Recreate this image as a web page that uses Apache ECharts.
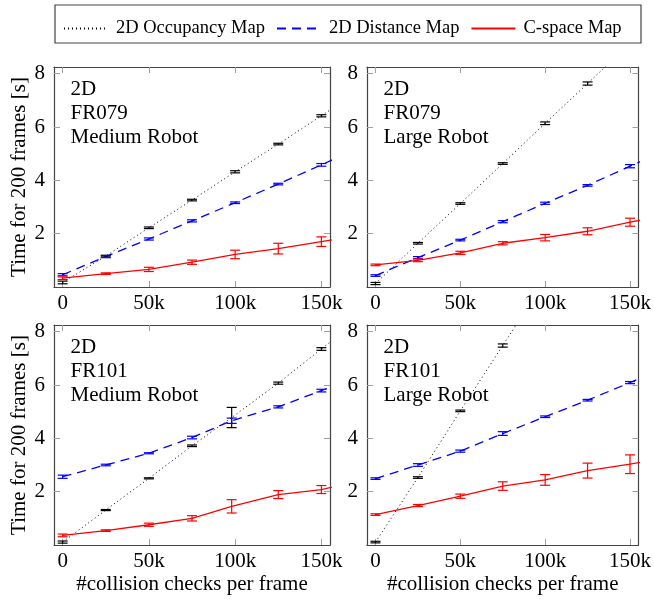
<!DOCTYPE html>
<html>
<head>
<meta charset="utf-8">
<script src="https://cdn.jsdelivr.net/npm/echarts@6/dist/echarts.min.js"></script>
<style>
  html, body { margin: 0; padding: 0; background: #fff; }
  #chart { width: 654px; height: 600px; }
</style>
</head>
<body>
<div id="chart"></div>
<script>
// collision checks per frame, in thousands (175 = next sample, outside the frame)
const checks = [0, 25, 50, 75, 100, 125, 150, 175];
const checksFr101Med = [0, 25, 50, 75, 98, 125, 150, 175];
const xTicks = [0, 50, 100, 150];
const yTicks = [2, 4, 6, 8];

// FR079, medium robot
const fr079MedOcc = [0.17, 1.16, 2.22, 3.26, 4.32, 5.36, 6.42, 7.5];
const fr079MedOccErr = [0.05, 0.03, 0.03, 0.03, 0.04, 0.03, 0.04];
const fr079MedDist = [0.46, 1.14, 1.8, 2.48, 3.16, 3.86, 4.58, 5.32];
const fr079MedDistErr = [0.04, 0.04, 0.04, 0.04, 0.03, 0.03, 0.05];
const fr079MedCsp = [0.33, 0.5, 0.66, 0.93, 1.22, 1.44, 1.7, 1.96];
const fr079MedCspErr = [0.05, 0.03, 0.08, 0.08, 0.16, 0.2, 0.18];

// FR079, large robot
const fr079LrgOcc = [0.13, 1.64, 3.13, 4.63, 6.14, 7.63, 9.13];
const fr079LrgOccErr = [0.04, 0.03, 0.03, 0.03, 0.05, 0.06];
const fr079LrgDist = [0.43, 1.1, 1.76, 2.45, 3.14, 3.81, 4.53, 5.23];
const fr079LrgDistErr = [0.03, 0.04, 0.03, 0.04, 0.04, 0.03, 0.06];
const fr079LrgCsp = [0.83, 1.0, 1.28, 1.64, 1.85, 2.09, 2.43, 2.74];
const fr079LrgCspErr = [0.03, 0.05, 0.06, 0.06, 0.12, 0.13, 0.15];

// FR101, medium robot
const fr101MedOcc = [0.11, 1.31, 2.5, 3.72, 4.78, 6.07, 7.35, 8.63];
const fr101MedOccErr = [0.04, 0.02, 0.02, 0.03, 0.38, 0.04, 0.05];
const fr101MedDist = [2.56, 3.0, 3.44, 4.03, 4.66, 5.18, 5.79, 6.4];
const fr101MedDistErr = [0.06, 0.03, 0.02, 0.05, 0.1, 0.04, 0.05];
const fr101MedCsp = [0.36, 0.54, 0.76, 1.0, 1.45, 1.89, 2.08, 2.45];
const fr101MedCspErr = [0.05, 0.03, 0.06, 0.1, 0.25, 0.15, 0.15];

// FR101, large robot
const fr101LrgOcc = [0.11, 2.53, 5.03, 7.48, 9.93];
const fr101LrgOccErr = [0.03, 0.03, 0.03, 0.06];
const fr101LrgDist = [2.49, 3.0, 3.52, 4.18, 4.81, 5.43, 6.09, 6.76];
const fr101LrgDistErr = [0.03, 0.05, 0.04, 0.07, 0.03, 0.03, 0.04];
const fr101LrgCsp = [1.14, 1.48, 1.83, 2.21, 2.44, 2.79, 3.03, 3.33];
const fr101LrgCspErr = [0.03, 0.04, 0.08, 0.16, 0.2, 0.28, 0.35];

const seriesNames = ['2D Occupancy Map', '2D Distance Map', 'C-space Map'];
const panelLabels = [
  ['2D', 'FR079', 'Medium Robot'],
  ['2D', 'FR079', 'Large Robot'],
  ['2D', 'FR101', 'Medium Robot'],
  ['2D', 'FR101', 'Large Robot']
];

const FONT = 'Liberation Serif';
const colors = ['#000000', '#0000ff', '#ff0000'];
const dashes = [[1, 3], [9, 6], 'solid'];

const panels = [
  { xs: checks, data: [[fr079MedOcc, fr079MedOccErr], [fr079MedDist, fr079MedDistErr], [fr079MedCsp, fr079MedCspErr]] },
  { xs: checks, data: [[fr079LrgOcc, fr079LrgOccErr], [fr079LrgDist, fr079LrgDistErr], [fr079LrgCsp, fr079LrgCspErr]] },
  { xs: checksFr101Med, data: [[fr101MedOcc, fr101MedOccErr], [fr101MedDist, fr101MedDistErr], [fr101MedCsp, fr101MedCspErr]] },
  { xs: checks, data: [[fr101LrgOcc, fr101LrgOccErr], [fr101LrgDist, fr101LrgDistErr], [fr101LrgCsp, fr101LrgCspErr]] }
];

const grids = [
  { left: 54, top: 67, width: 276, height: 220 },
  { left: 367, top: 67, width: 275, height: 220 },
  { left: 54, top: 325, width: 276, height: 220 },
  { left: 367, top: 325, width: 275, height: 220 }
];

const axisLine = { show: true, onZero: false, lineStyle: { color: '#444', width: 1.2 } };
const tick = (vals) => ({ show: true, inside: true, length: 6, customValues: vals, lineStyle: { color: '#a0a0a0', width: 1 } });

const xAxes = [], yAxes = [], series = [], graphics = [];

grids.forEach((g, p) => {
  const bottomRow = p >= 2, leftCol = p % 2 === 0;
  xAxes.push({
    type: 'value', gridIndex: p, position: 'bottom', min: -5, max: 155,
    axisLine, axisTick: tick(xTicks), splitLine: { show: false },
    axisLabel: { customValues: xTicks, margin: 6, fontFamily: FONT, fontSize: 21, color: '#000',
      formatter: v => v === 0 ? '0' : v + 'k' },
    name: bottomRow ? '#collision checks per frame' : '', nameLocation: 'middle', nameGap: 29,
    nameTextStyle: { fontFamily: FONT, fontSize: 21, color: '#000' }
  });
  xAxes.push({
    type: 'value', gridIndex: p, position: 'top', min: -5, max: 155,
    axisLine, axisTick: tick(xTicks), axisLabel: { show: false }, splitLine: { show: false }
  });
  yAxes.push({
    type: 'value', gridIndex: p, position: 'left', min: 0, max: 8.25,
    axisLine, axisTick: tick(yTicks), splitLine: { show: false },
    axisLabel: { customValues: yTicks, margin: 9, fontFamily: FONT, fontSize: 21, color: '#000' },
    name: leftCol ? 'Time for 200 frames [s]' : '', nameLocation: 'middle', nameGap: 24,
    nameTextStyle: { fontFamily: FONT, fontSize: 21, color: '#000' }
  });
  yAxes.push({
    type: 'value', gridIndex: p, position: 'right', min: 0, max: 8.25,
    axisLine, axisTick: tick(yTicks), axisLabel: { show: false }, splitLine: { show: false }
  });

  const panel = panels[p];
  panel.data.forEach(([vals, errs], k) => {
    series.push({
      name: seriesNames[k], type: 'line', xAxisIndex: 2 * p, yAxisIndex: 2 * p,
      data: vals.map((v, i) => [panel.xs[i], v]),
      symbol: 'none', clip: true, z: 2,
      lineStyle: { color: colors[k], width: k === 0 ? 1 : 1.3, type: dashes[k] },
      itemStyle: { color: colors[k] }
    });
    series.push({
      name: 'err' + p + k, type: 'custom', xAxisIndex: 2 * p, yAxisIndex: 2 * p, z: 3,
      data: errs.map((e, i) => [panel.xs[i], vals[i] - e, vals[i] + e]),
      renderItem: (params, api) => {
        const lo = api.coord([api.value(0), api.value(1)]);
        const hi = api.coord([api.value(0), api.value(2)]);
        const hw = 5;
        const style = { stroke: colors[k], lineWidth: 1.2 };
        return {
          type: 'group', children: [
            { type: 'line', shape: { x1: lo[0], y1: lo[1], x2: hi[0], y2: hi[1] }, style },
            { type: 'line', shape: { x1: lo[0] - hw, y1: lo[1], x2: lo[0] + hw, y2: lo[1] }, style },
            { type: 'line', shape: { x1: hi[0] - hw, y1: hi[1], x2: hi[0] + hw, y2: hi[1] }, style }
          ]
        };
      }
    });
  });

  panelLabels[p].forEach((t, j) => {
    graphics.push({
      type: 'text', left: g.left + 16.5, top: g.top + 23.5 + 24 * j - 11.5,
      style: { text: t, font: '21px "' + FONT + '"', fill: '#000' }
    });
  });
});

// legend frame
graphics.push({
  type: 'rect', shape: { x: 55, y: 5, width: 586, height: 38 },
  style: { fill: 'none', stroke: '#444', lineWidth: 1.2 }
});

const chart = echarts.init(document.getElementById('chart'), null, { renderer: 'canvas' });
chart.setOption({
  animation: false,
  backgroundColor: '#fff',
  legend: {
    data: seriesNames, left: 58, top: 14, width: 585, itemWidth: 44, itemHeight: 14, itemGap: 11,
    itemStyle: { opacity: 0 },
    textStyle: { fontFamily: FONT, fontSize: 18.5, color: '#000', padding: [0, 0, 0, 3] }
  },
  grid: grids,
  xAxis: xAxes,
  yAxis: yAxes,
  graphic: graphics,
  series
});
</script>
</body>
</html>
